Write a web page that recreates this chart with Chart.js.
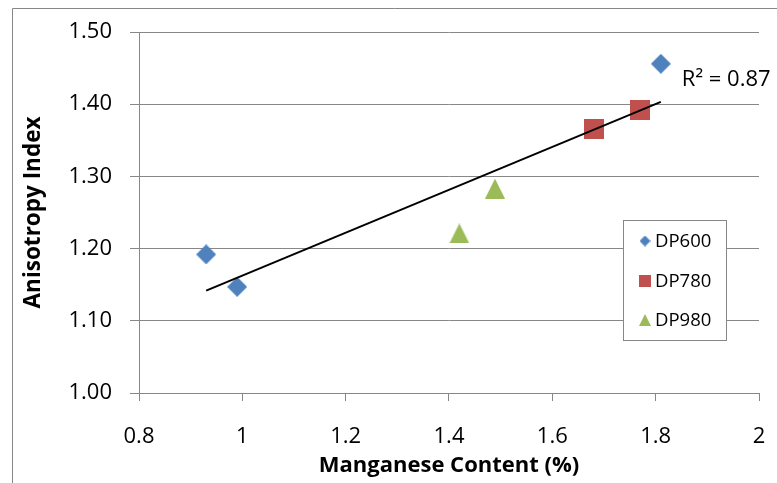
<!DOCTYPE html>
<html>
<head>
<meta charset="utf-8">
<script src="https://cdn.jsdelivr.net/npm/chart.js@4/dist/chart.umd.min.js"></script>
<style>
  html, body { margin: 0; padding: 0; background: #fff; }
  canvas { display: block; }
</style>
</head>
<body>
<canvas id="c" width="777" height="483"></canvas>
<script>
// Manganese content (%) and anisotropy index for each steel grade
const dp600Mn = [0.93, 0.99, 1.81];
const dp600Ai = [1.192, 1.147, 1.456];
const dp780Mn = [1.68, 1.77];
const dp780Ai = [1.365, 1.392];
const dp980Mn = [1.42, 1.489];
const dp980Ai = [1.221, 1.283];

const seriesNames = ['DP600', 'DP780', 'DP980'];
const seriesColors = ['#4F81BD', '#C0504D', '#9BBB59'];

const xTickValues = [0.8, 1, 1.2, 1.4, 1.6, 1.8, 2];
const xTickLabels = ['0.8', '1', '1.2', '1.4', '1.6', '1.8', '2'];
const yTickValues = [1.0, 1.1, 1.2, 1.3, 1.4, 1.5];
const yTickLabels = ['1.00', '1.10', '1.20', '1.30', '1.40', '1.50'];

const FONT = "'Open Sans', 'Liberation Sans', sans-serif";
const GRID = '#878787';

// Marker sprites: diamond, square, triangle
function marker(shape, size, color) {
  const c = document.createElement('canvas');
  c.width = size; c.height = size;
  const g = c.getContext('2d');
  g.fillStyle = color;
  g.beginPath();
  if (shape === 'diamond') {
    g.moveTo(size / 2, 0); g.lineTo(size, size / 2); g.lineTo(size / 2, size); g.lineTo(0, size / 2);
  } else if (shape === 'square') {
    g.rect(0, 0, size, size);
  } else {
    g.moveTo(size / 2, 0); g.lineTo(size, size); g.lineTo(0, size);
  }
  g.closePath();
  g.fill();
  return c;
}
const shapes = ['diamond', 'square', 'triangle'];
const bigMarkers = shapes.map((s, i) => marker(s, 20, seriesColors[i]));
const smallMarkers = [marker('diamond', 11, seriesColors[0]), marker('square', 12, seriesColors[1]), marker('triangle', 12, seriesColors[2])];

const toPoints = (xs, ys) => xs.map((x, i) => ({ x, y: ys[i] }));

// Least-squares trend line over all grades
const allX = [...dp600Mn, ...dp780Mn, ...dp980Mn];
const allY = [...dp600Ai, ...dp780Ai, ...dp980Ai];
const n = allX.length;
const mx = allX.reduce((a, b) => a + b, 0) / n;
const my = allY.reduce((a, b) => a + b, 0) / n;
let sxy = 0, sxx = 0, syy = 0;
for (let i = 0; i < n; i++) {
  sxy += (allX[i] - mx) * (allY[i] - my);
  sxx += (allX[i] - mx) ** 2;
  syy += (allY[i] - my) ** 2;
}
const slope = sxy / sxx;
const intercept = my - slope * mx;
const r2 = (sxy * sxy) / (sxx * syy);
const xLo = Math.min(...allX), xHi = Math.max(...allX);
const trendPoints = [{ x: xLo, y: intercept + slope * xLo }, { x: xHi, y: intercept + slope * xHi }];

const chartFrame = {
  id: 'chartFrame',
  beforeDraw(chart) {
    const ctx = chart.ctx;
    ctx.save();
    ctx.fillStyle = '#fff';
    ctx.fillRect(0, 0, chart.width, chart.height);
    ctx.strokeStyle = GRID;
    ctx.lineWidth = 1;
    ctx.beginPath();
    ctx.moveTo(12.5, chart.height);
    ctx.lineTo(12.5, 8.5);
    ctx.lineTo(chart.width, 8.5);
    ctx.stroke();
    ctx.restore();
  }
};

const r2Label = {
  id: 'r2Label',
  afterDatasetsDraw(chart) {
    const { x, y } = chart.scales;
    const end = trendPoints[1];
    const px = x.getPixelForValue(end.x);
    const py = y.getPixelForValue(end.y);
    const ctx = chart.ctx;
    ctx.save();
    ctx.font = `22px ${FONT}`;
    ctx.fillStyle = '#000';
    ctx.textAlign = 'left';
    ctx.textBaseline = 'middle';
    ctx.fillText('R\u00B2 = ' + r2.toFixed(2), px + 21, py - 22);
    ctx.restore();
  }
};

const boxLegend = {
  id: 'boxLegend',
  afterDraw(chart) {
    const ctx = chart.ctx;
    const left = 623, top = 220, w = 103, h = 120;
    ctx.save();
    ctx.fillStyle = '#fff';
    ctx.fillRect(left, top, w, h);
    ctx.strokeStyle = GRID;
    ctx.lineWidth = 1;
    ctx.strokeRect(left + 0.5, top + 0.5, w, h);
    ctx.font = `18.5px ${FONT}`;
    ctx.fillStyle = '#000';
    ctx.textBaseline = 'middle';
    ctx.textAlign = 'left';
    seriesNames.forEach((name, i) => {
      const cy = top + 21 + i * 39.5;
      const m = smallMarkers[i];
      ctx.drawImage(m, 645 - m.width / 2, cy - m.height / 2);
      ctx.fillText(name, 655, cy + 1);
    });
    ctx.restore();
  }
};

// Keep tick-label padding from shrinking the plot area
const noEdgePadding = s => { s.paddingLeft = 0; s.paddingRight = 0; s.paddingTop = 0; s.paddingBottom = 0; };

new Chart(document.getElementById('c'), {
  type: 'scatter',
  data: {
    datasets: [
      {
        type: 'line',
        label: 'trend',
        data: trendPoints,
        borderColor: '#000',
        borderWidth: 2,
        pointRadius: 0,
        fill: false,
        order: 0
      },
      { label: seriesNames[0], data: toPoints(dp600Mn, dp600Ai), pointStyle: bigMarkers[0], pointRadius: 10, order: 1 },
      { label: seriesNames[1], data: toPoints(dp780Mn, dp780Ai), pointStyle: bigMarkers[1], pointRadius: 10, order: 1 },
      { label: seriesNames[2], data: toPoints(dp980Mn, dp980Ai), pointStyle: bigMarkers[2], pointRadius: 10, order: 1 }
    ]
  },
  options: {
    responsive: false,
    animation: false,
    events: [],
    layout: { padding: { top: 32, right: 18, left: 0, bottom: 0 } },
    plugins: { legend: { display: false }, tooltip: { enabled: false } },
    scales: {
      x: {
        type: 'linear',
        min: 0.8,
        max: 2,
        afterBuildTicks: s => { s.ticks = xTickValues.map(v => ({ value: v })); },
        afterFit: s => { s.height = 90; noEdgePadding(s); },
        grid: { drawOnChartArea: false, drawTicks: true, tickLength: 8, color: GRID, lineWidth: 1 },
        border: { display: true, color: GRID, width: 1 },
        ticks: {
          padding: 23,
          color: '#000',
          maxRotation: 0,
          font: { family: FONT, size: 22 },
          callback: (v, i) => xTickLabels[i]
        },
        title: {
          display: true,
          text: 'Manganese Content (%)',
          color: '#000',
          font: { family: FONT, size: 22, weight: 'bold' },
          padding: { top: 0, bottom: 4 }
        }
      },
      y: {
        min: 1,
        max: 1.5,
        afterBuildTicks: s => { s.ticks = yTickValues.map(v => ({ value: v })); },
        afterFit: s => { s.width = 139; noEdgePadding(s); },
        grid: { drawTicks: true, tickLength: 9, color: GRID, lineWidth: 1 },
        border: { display: true, color: GRID, width: 1 },
        ticks: {
          padding: 18,
          color: '#000',
          font: { family: FONT, size: 22 },
          callback: (v, i) => yTickLabels[i]
        },
        title: {
          display: true,
          text: 'Anisotropy Index',
          color: '#000',
          font: { family: FONT, size: 22.5, weight: 'bold' },
          padding: { top: 20, bottom: 0 }
        }
      }
    }
  },
  plugins: [chartFrame, r2Label, boxLegend]
});
</script>
</body>
</html>
